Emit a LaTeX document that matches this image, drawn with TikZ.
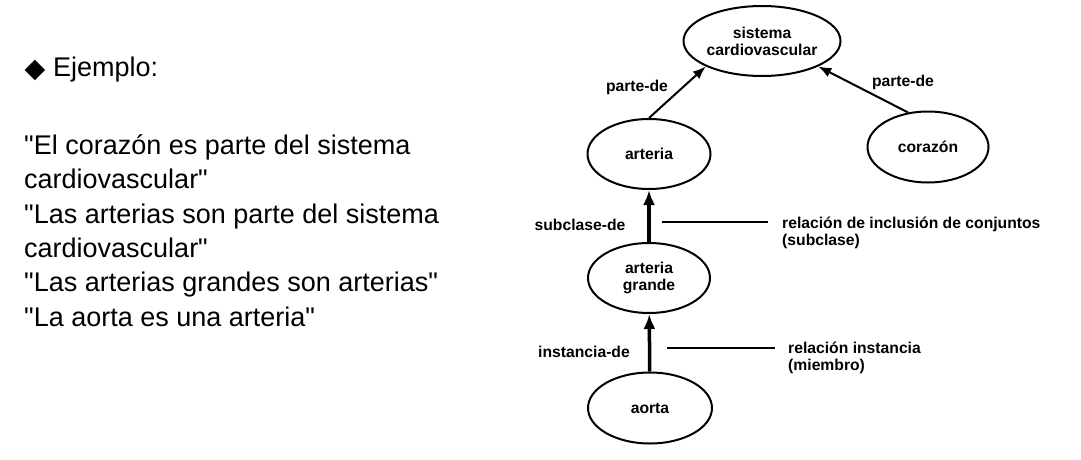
\documentclass[tikz,border=0pt]{standalone}
\usepackage{fontspec}
\setmainfont{Liberation Sans}[Ligatures=TeXOff]
\newfontfamily\simbolo{DejaVu Sans}
\usepackage{tikz}
\usetikzlibrary{shapes.geometric}
\usetikzlibrary{arrows.meta}
\tikzset{>={Latex[length=13pt,width=10pt]}}
\tikzset{concepto/.style={draw,ellipse,line width=2pt,inner sep=0pt,align=center,font=\bfseries\fontsize{15.7}{17}\selectfont}}
\tikzset{etiqueta/.style={inner sep=0pt,font=\bfseries\fontsize{15.7}{17}\selectfont}}
\tikzset{nota/.style={inner sep=0pt,align=left,anchor=base west,font=\bfseries\fontsize{15.7}{16.5}\selectfont}}

\begin{document}
\begin{tikzpicture}[x=1pt,y=-1pt]
            \useasboundingbox (0,0) rectangle (1081,460);
            % texto de la izquierda
            \node[inner sep=0pt] (rombo) at (35,70) {\simbolo\fontsize{27}{27}\selectfont ◆};
            \node[anchor=base west,inner sep=0pt,font=\fontsize{27}{30}\selectfont] (ejemplo) at (53,77) {Ejemplo:};
            \node[anchor=base west,inner sep=0pt,align=left,font=\fontsize{27}{34.3}\selectfont] (frases) at (24,326)
                {"El corazón es parte del sistema\\cardiovascular"\\"Las arterias son parte del sistema\\cardiovascular"\\"Las arterias grandes son arterias"\\"La aorta es una arteria"};
            % conceptos
            \node[concepto,minimum width=157,minimum height=70] (sis) at (762,41) {sistema\\cardiovascular};
            \node[concepto,minimum width=123,minimum height=70] (art) at (649,154) {arteria};
            \node[concepto,minimum width=121,minimum height=71] (cor) at (928,147) {corazón};
            \node[concepto,minimum width=122,minimum height=70] (ag) at (649,278) {arteria\\grande};
            \node[concepto,minimum width=124,minimum height=71] (aor) at (650,408) {aorta};
            % relaciones
            \draw[->,line width=2pt] (art.north) to (sis.south west);
            \draw[->,line width=2pt] (cor.120) to (sis.south east);
            \draw[-{Latex[length=15pt,width=12pt]},line width=3.5pt] (ag) to (art);
            \draw[-{Latex[length=15pt,width=12pt]},line width=3.5pt] (aor) to (ag);
            \node[etiqueta] (pd1) at (637,87) {parte-de};
            \node[etiqueta] (pd2) at (903,82) {parte-de};
            \node[etiqueta] (sub) at (580,225) {subclase-de};
            \node[etiqueta] (ins) at (584,352) {instancia-de};
            % notas
            \coordinate (l1a) at (662,222);
            \coordinate (l1b) at (768,222);
            \coordinate (l2a) at (667,348);
            \coordinate (l2b) at (775,348);
            \draw[line width=1.5pt] (l1a) -- (l1b);
            \draw[line width=1.5pt] (l2a) -- (l2b);
            \node[nota] (n1) at (782,245) {relación de inclusión de conjuntos\\(subclase)};
            \node[nota] (n2) at (788,370) {relación instancia\\(miembro)};
        \end{tikzpicture}
\end{document}
